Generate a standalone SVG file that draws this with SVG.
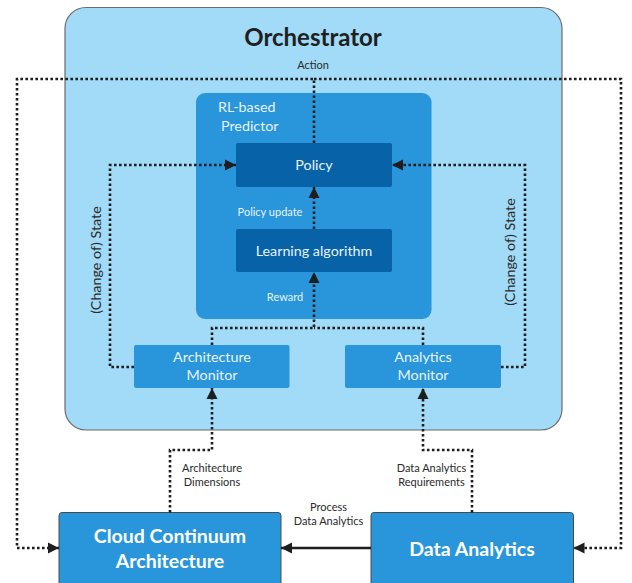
<svg xmlns="http://www.w3.org/2000/svg" width="632" height="583" viewBox="0 0 632 583">
  <style>
    text { font-family: Lato, "Open Sans", "Liberation Sans", sans-serif; }
    .title { font-size: 24px; font-weight: bold; fill: #1f1f1f; text-anchor: middle; }
    .big { font-size: 19.5px; font-weight: bold; fill: #ffffff; text-anchor: middle; }
    .inner { font-size: 14.3px; fill: #e6f3fb; text-anchor: middle; }
    .lbl { font-size: 11px; fill: #2a2a2a; text-anchor: middle; }
    .lblw { font-size: 11px; fill: #e6f3fb; text-anchor: middle; }
    .state { font-size: 14.3px; fill: #2a2a2a; text-anchor: middle; }
    .dot { fill: none; stroke: #1e1e1e; stroke-width: 2.6; stroke-dasharray: 2.6 2.4; }
    .solid { fill: none; stroke: #1e1e1e; stroke-width: 2.6; }
    .mid { fill: #2996db; }
    .dark { fill: #0762a7; }
  </style>
  <defs>
    <marker id="tri" markerUnits="userSpaceOnUse" markerWidth="12" markerHeight="12" viewBox="0 0 12 12" refX="11" refY="6" orient="auto">
      <path d="M0,0.5 L11,6 L0,11.5 Z" fill="#1e1e1e"/>
    </marker>
  </defs>

  <!-- Orchestrator container -->
  <g id="orchestrator">
    <rect x="65" y="7.5" width="497" height="422.5" rx="21" fill="#a1dbf7" stroke="#6b6b6b" stroke-width="1.2"/>
    <text class="title" x="313" y="46">Orchestrator</text>
  </g>

  <!-- RL-based predictor -->
  <g id="rl-predictor">
    <rect class="mid" x="196" y="93" width="235.5" height="226" rx="9"/>
    <text class="inner" x="218" y="112" style="text-anchor:start">RL-based</text>
    <text class="inner" x="221" y="131" style="text-anchor:start">Predictor</text>
  </g>

  <g id="policy">
    <rect class="dark" x="236" y="143" width="156" height="44" rx="2"/>
    <text class="inner" x="314" y="170">Policy</text>
  </g>

  <g id="learning-algorithm">
    <rect class="dark" x="236" y="229" width="156" height="43" rx="2"/>
    <text class="inner" x="314" y="256">Learning algorithm</text>
  </g>

  <g id="architecture-monitor">
    <rect class="mid" x="134" y="345" width="155.5" height="43" rx="2"/>
    <text class="inner" x="212" y="362">Architecture</text>
    <text class="inner" x="212" y="380">Monitor</text>
  </g>

  <g id="analytics-monitor">
    <rect class="mid" x="345" y="345" width="156" height="43" rx="2"/>
    <text class="inner" x="423" y="362">Analytics</text>
    <text class="inner" x="423" y="380">Monitor</text>
  </g>

  <g id="cloud-continuum">
    <rect class="mid" x="59" y="512.5" width="222" height="80" rx="3" stroke="#4a4a4a" stroke-width="1"/>
    <text class="big" x="170" y="542.5">Cloud Continuum</text>
    <text class="big" x="170" y="567.5">Architecture</text>
  </g>

  <g id="data-analytics">
    <rect class="mid" x="371" y="512.5" width="202.5" height="80" rx="3" stroke="#4a4a4a" stroke-width="1"/>
    <text class="big" x="472" y="555.5">Data Analytics</text>
  </g>

  <!-- Connectors -->
  <g id="connectors">
    <!-- Action loop -->
    <path class="dot" d="M314,143 V79 H17 V548 H59" marker-end="url(#tri)"/>
    <path class="dot" d="M314,79 H621 V548 H573.5" marker-end="url(#tri)"/>
    <!-- (Change of) State -->
    <path class="dot" d="M134,367 H110 V165 H236" marker-end="url(#tri)"/>
    <path class="dot" d="M501,367 H525 V165 H392" marker-end="url(#tri)"/>
    <!-- Policy update -->
    <path class="dot" d="M314,229 V187" marker-end="url(#tri)"/>
    <!-- Reward -->
    <path class="dot" d="M212,345 V328 H314 V272" marker-end="url(#tri)"/>
    <path class="dot" d="M423,345 V328 H314"/>
    <!-- Architecture dimensions -->
    <path class="dot" d="M170,512.5 V450 H212 V388" marker-end="url(#tri)"/>
    <!-- Data analytics requirements -->
    <path class="dot" d="M472,512.5 V450 H423 V388" marker-end="url(#tri)"/>
    <!-- Process data analytics -->
    <path class="solid" d="M371,548 H281" marker-end="url(#tri)"/>
  </g>

  <!-- Connector labels -->
  <g id="labels">
    <text class="lbl" x="313" y="68.5">Action</text>
    <text class="lblw" x="270" y="216">Policy update</text>
    <text class="lblw" x="285" y="300.5">Reward</text>
    <text class="state" transform="translate(100.5,260) rotate(-90)">(Change of) State</text>
    <text class="state" transform="translate(514.5,252) rotate(-90)">(Change of) State</text>
    <text class="lbl" x="212" y="472">Architecture</text>
    <text class="lbl" x="212" y="486">Dimensions</text>
    <text class="lbl" x="431.5" y="472">Data Analytics</text>
    <text class="lbl" x="431.5" y="486">Requirements</text>
    <text class="lbl" x="328.5" y="510.5">Process</text>
    <text class="lbl" x="328.5" y="524.5">Data Analytics</text>
  </g>
</svg>
